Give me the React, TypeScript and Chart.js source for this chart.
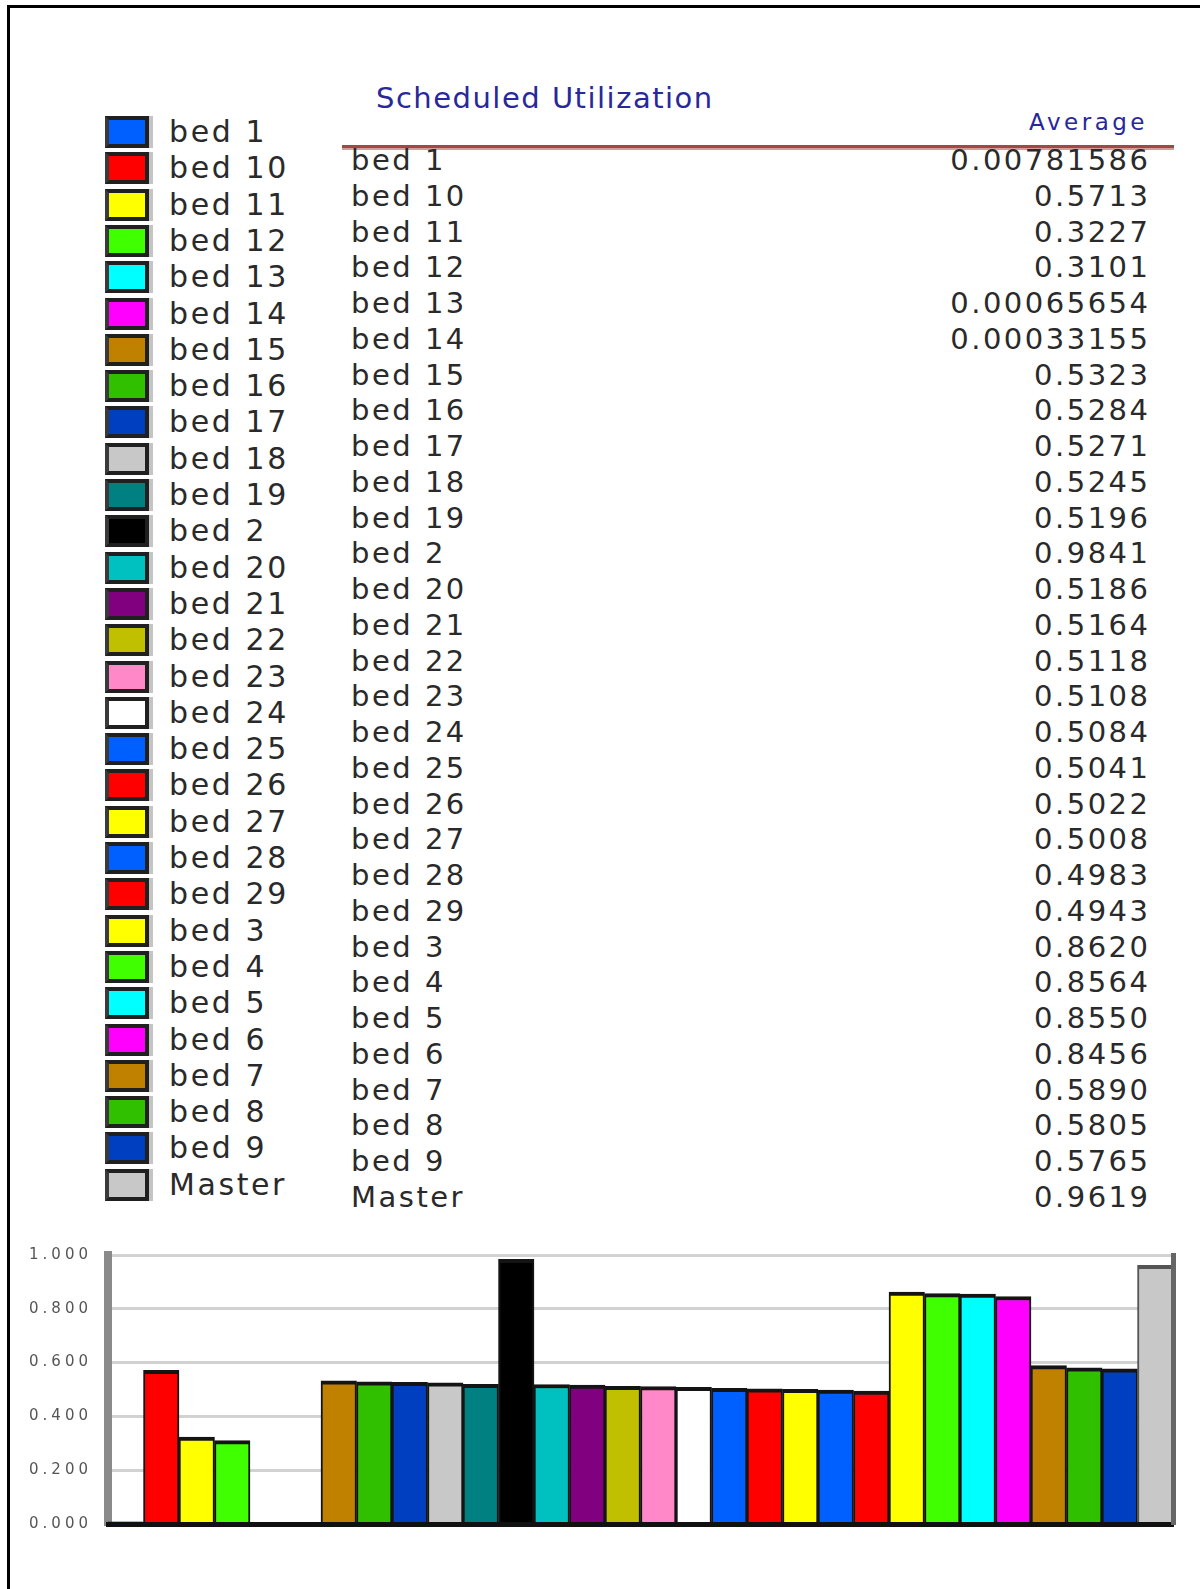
import React, { useEffect, useRef } from "react";
import { Chart, registerables } from "chart.js";

Chart.register(...registerables);

const titleText = "Scheduled Utilization";
const columnHeader = "Average";

const categories = [
  "bed 1", "bed 10", "bed 11", "bed 12", "bed 13", "bed 14", "bed 15", "bed 16",
  "bed 17", "bed 18", "bed 19", "bed 2", "bed 20", "bed 21", "bed 22", "bed 23",
  "bed 24", "bed 25", "bed 26", "bed 27", "bed 28", "bed 29", "bed 3", "bed 4",
  "bed 5", "bed 6", "bed 7", "bed 8", "bed 9", "Master",
];

const averages = [
  0.00781586, 0.5713, 0.3227, 0.3101, 0.00065654, 0.00033155, 0.5323, 0.5284,
  0.5271, 0.5245, 0.5196, 0.9841, 0.5186, 0.5164, 0.5118, 0.5108,
  0.5084, 0.5041, 0.5022, 0.5008, 0.4983, 0.4943, 0.862, 0.8564,
  0.855, 0.8456, 0.589, 0.5805, 0.5765, 0.9619,
];

const barColors = [
  "#0060ff", "#ff0000", "#ffff00", "#40ff00", "#00ffff", "#ff00ff", "#c08000", "#30c000",
  "#0040c0", "#c8c8c8", "#008080", "#000000", "#00c0c0", "#800080", "#c0c000", "#ff88c8",
  "#ffffff", "#0060ff", "#ff0000", "#ffff00", "#0060ff", "#ff0000", "#ffff00", "#40ff00",
  "#00ffff", "#ff00ff", "#c08000", "#30c000", "#0040c0", "#c8c8c8",
];

const yTicks = [0, 0.2, 0.4, 0.6, 0.8, 1.0];

const FONT = "'DejaVu Sans', Verdana, sans-serif";

function formatValue(v: number): string {
  return v >= 0.01 ? v.toFixed(4) : String(v);
}

function BarChart() {
  const canvasRef = useRef<HTMLCanvasElement | null>(null);

  useEffect(() => {
    const canvas = canvasRef.current;
    if (!canvas) return;
    const chart = new Chart(canvas, {
      type: "bar",
      data: {
        labels: categories,
        datasets: [
          {
            data: averages,
            backgroundColor: barColors,
            borderColor: categories.map((c) => (c === "Master" ? "#555555" : "#141414")),
            borderWidth: { top: 4, left: 2, right: 2, bottom: 0 } as any,
            borderSkipped: "start",
            barPercentage: 1,
            categoryPercentage: 1,
          },
        ],
      },
      options: {
        animation: false,
        responsive: true,
        maintainAspectRatio: false,
        layout: { padding: { top: 10, bottom: 10, left: 0, right: 7 } },
        plugins: {
          legend: { display: false },
          tooltip: { enabled: false },
          title: { display: false },
        },
        scales: {
          x: {
            type: "category",
            offset: true,
            grid: { display: false },
            ticks: { display: false },
            border: { display: true, color: "#111111", width: 5, z: 1 },
            afterFit: (s: any) => {
              s.height = 0;
            },
          },
          y: {
            min: 0,
            max: 1,
            afterBuildTicks: (s: any) => {
              s.ticks = yTicks.map((v) => ({ value: v }));
            },
            ticks: {
              callback: (v: any) => Number(v).toFixed(3),
              font: { family: "DejaVu Sans", size: 15 },
              color: "#555555",
              padding: 16,
            },
            grid: { color: "#d2d2d2", lineWidth: 3, drawTicks: false },
            border: { display: true, color: "#8a8a8a", width: 8 },
            afterFit: (s: any) => {
              s.width = 108;
            },
          },
          yRight: {
            position: "right",
            min: 0,
            max: 1,
            grid: { display: false, drawTicks: false },
            ticks: { display: false },
            border: { display: true, color: "#666666", width: 5, z: 1 },
            afterFit: (s: any) => {
              s.width = 0;
            },
          },
        },
      },
      plugins: [
        {
          id: "tickSpacing",
          beforeDraw: (c: any) => {
            try {
              c.ctx.letterSpacing = "4px";
            } catch (e) {}
          },
        },
      ],
    });
    return () => chart.destroy();
  }, []);

  return (
    <div style={{ position: "absolute", left: 0, top: 1230, width: 1180, height: 319 }}>
      <canvas ref={canvasRef} />
    </div>
  );
}

export default function App() {
  const legendTop = 116;
  const legendStep = 36.3;
  const rowCenter0 = 160;
  const rowStep = 35.75;

  return (
    <div
      style={{
        position: "absolute",
        left: 0,
        top: 0,
        width: 1200,
        height: 1589,
        overflow: "hidden",
        background: "#ffffff",
        fontFamily: FONT,
      }}
    >
      {/* outer frame */}
      <div
        style={{
          position: "absolute",
          left: 7,
          top: 5,
          width: 1300,
          height: 1700,
          borderTop: "3px solid #000",
          borderLeft: "3px solid #000",
          boxSizing: "border-box",
        }}
      />

      {/* legend */}
      {categories.map((c, i) => {
        const top = legendTop + i * legendStep;
        return (
          <React.Fragment key={"lg" + c}>
            <div
              style={{
                position: "absolute",
                left: 105,
                top,
                width: 44,
                height: 32,
                boxSizing: "border-box",
                border: "4px solid #202020",
                borderLeftColor: "#3a3a3a",
                background: barColors[i],
                boxShadow: "4px 0 0 #c4c4c4",
              }}
            />
            <div
              style={{
                position: "absolute",
                left: 169,
                top: top + 16 - 20,
                height: 40,
                lineHeight: "40px",
                fontSize: 30,
                letterSpacing: "2.6px",
                color: "#2a2a2a",
                whiteSpace: "nowrap",
              }}
            >
              {c}
            </div>
          </React.Fragment>
        );
      })}

      {/* title */}
      <div
        style={{
          position: "absolute",
          left: 376,
          top: 98 - 20,
          height: 40,
          lineHeight: "40px",
          fontSize: 29,
          letterSpacing: "1.5px",
          color: "#28289a",
          whiteSpace: "nowrap",
        }}
      >
        {titleText}
      </div>

      {/* column header */}
      <div
        style={{
          position: "absolute",
          right: 1200 - 1148,
          top: 122 - 16,
          height: 32,
          lineHeight: "32px",
          fontSize: 23,
          letterSpacing: "3.5px",
          color: "#28289a",
          textAlign: "right",
          whiteSpace: "nowrap",
        }}
      >
        {columnHeader}
      </div>

      {/* header rule */}
      <div
        style={{
          position: "absolute",
          left: 342,
          top: 145,
          width: 832,
          height: 3,
          background: "#a04848",
          borderBottom: "2px solid #d59c9c",
        }}
      />

      {/* table rows */}
      {categories.map((c, i) => {
        const cy = rowCenter0 + i * rowStep;
        return (
          <React.Fragment key={"tr" + c}>
            <div
              style={{
                position: "absolute",
                left: 351,
                top: cy - 20,
                height: 40,
                lineHeight: "40px",
                fontSize: 29,
                letterSpacing: "2.5px",
                color: "#2a2a2a",
                whiteSpace: "nowrap",
              }}
            >
              {c}
            </div>
            <div
              style={{
                position: "absolute",
                right: 1200 - 1150.5,
                top: cy - 20,
                height: 40,
                lineHeight: "40px",
                fontSize: 29,
                letterSpacing: "2.5px",
                color: "#2a2a2a",
                textAlign: "right",
                whiteSpace: "nowrap",
              }}
            >
              {formatValue(averages[i])}
            </div>
          </React.Fragment>
        );
      })}

      <BarChart />
    </div>
  );
}
